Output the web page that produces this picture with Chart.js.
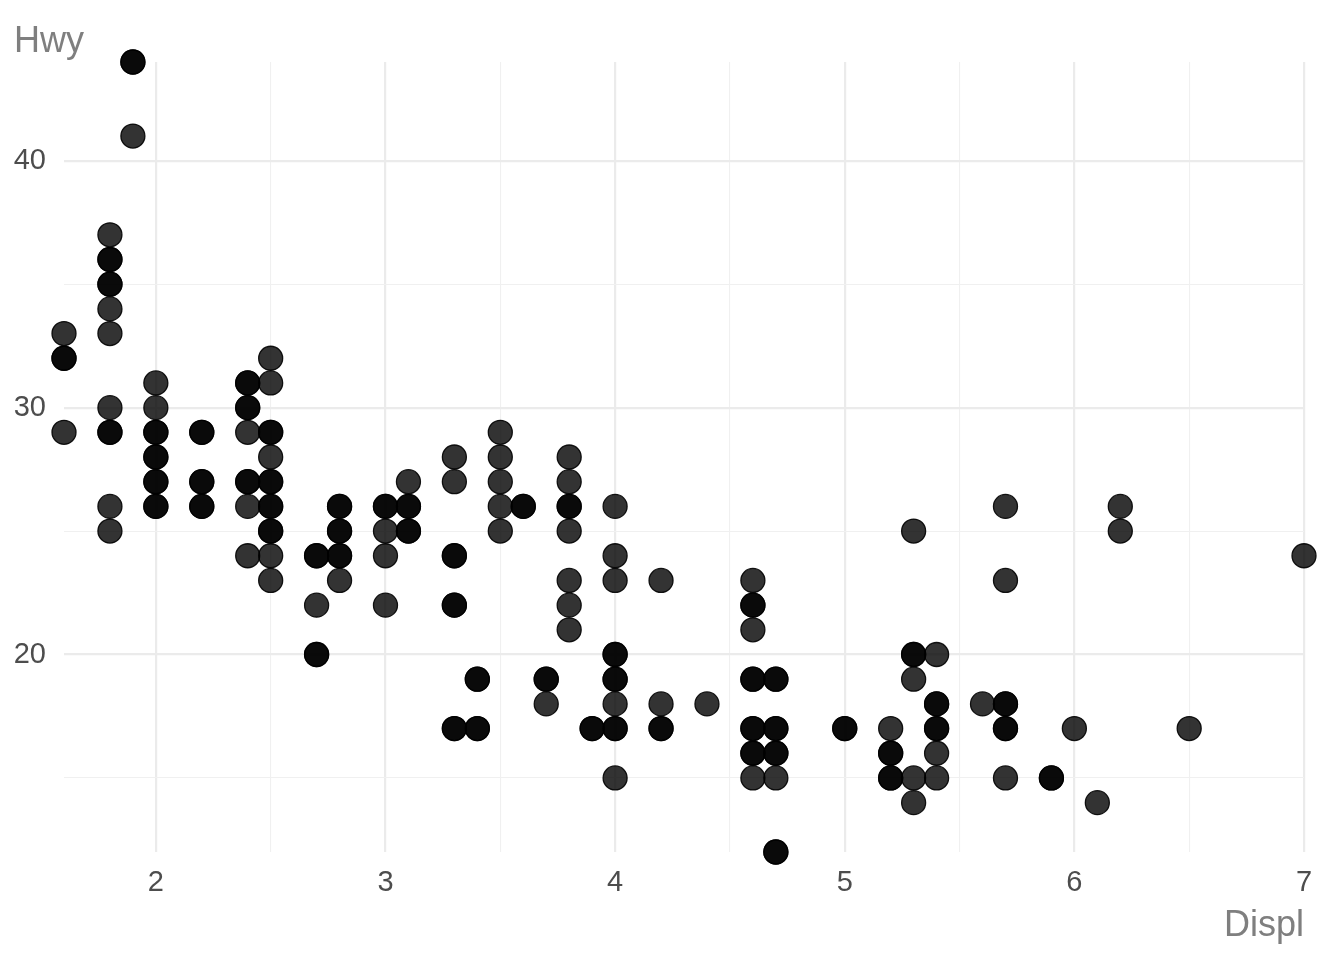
<!DOCTYPE html>
<html>
<head>
<meta charset="utf-8">
<script src="https://cdn.jsdelivr.net/npm/chart.js@4/dist/chart.umd.min.js"></script>
<style>
  html, body { margin: 0; padding: 0; background: #ffffff; }
  #wrap { width: 1344px; height: 960px; }
</style>
</head>
<body>
<div id="wrap"><canvas id="mpgChart"></canvas></div>
<script>
// displacement values and the hwy readings seen at each one
// (darker dots in the picture are stacked points, so they appear twice)
const displ = [1.6, 1.8, 1.9, 2.0, 2.2, 2.4, 2.5, 2.7, 2.8, 3.0, 3.1, 3.3, 3.4, 3.5, 3.6, 3.7, 3.8, 3.9,
  4.0, 4.2, 4.4, 4.6, 4.7, 5.0, 5.2, 5.3, 5.4, 5.6, 5.7, 5.9, 6.0, 6.1, 6.2, 6.5, 7.0];
const hwy = [
  [33, 32, 32, 29],
  [37, 36, 36, 35, 35, 34, 33, 30, 29, 29, 26, 25],
  [44, 44, 41],
  [31, 30, 29, 29, 28, 28, 27, 27, 26, 26],
  [29, 29, 27, 27, 26, 26],
  [31, 31, 30, 30, 29, 27, 27, 26, 24],
  [32, 31, 29, 29, 28, 27, 27, 26, 26, 25, 25, 24, 23],
  [24, 24, 22, 20, 20],
  [26, 26, 25, 25, 24, 24, 23],
  [26, 26, 25, 24, 22],
  [27, 26, 26, 25, 25],
  [28, 27, 24, 24, 22, 22, 17, 17],
  [19, 19, 17, 17],
  [29, 28, 27, 26, 25],
  [26, 26],
  [19, 19, 18],
  [28, 27, 26, 26, 25, 23, 22, 21],
  [17, 17],
  [26, 24, 23, 20, 20, 19, 19, 18, 17, 17, 15],
  [23, 18, 17, 17],
  [18],
  [23, 22, 22, 21, 19, 19, 17, 17, 16, 16, 15],
  [19, 19, 17, 17, 16, 16, 15, 12, 12],
  [17, 17],
  [17, 16, 16, 15, 15],
  [25, 20, 20, 19, 15, 14],
  [20, 18, 18, 17, 17, 16, 15],
  [18],
  [26, 23, 18, 18, 17, 17, 15],
  [15, 15],
  [17],
  [14],
  [26, 25],
  [17],
  [24],
];

const xTicks = [2, 2.5, 3, 3.5, 4, 4.5, 5, 5.5, 6, 6.5, 7];
const yTicks = [15, 20, 25, 30, 35, 40];

const points = [];
displ.forEach((d, i) => {
  hwy[i].forEach((h) => points.push({ x: d, y: h }));
});

const tickFont = { family: "'Liberation Sans', Arial, sans-serif", size: 29 };
const titleFont = { family: "'Liberation Sans', Arial, sans-serif", size: 36 };

const isMajorX = (v) => Number.isInteger(v);
const isMajorY = (v) => v % 10 === 0;

new Chart(document.getElementById("mpgChart").getContext("2d"), {
  type: "scatter",
  data: {
    datasets: [
      {
        data: points,
        backgroundColor: "rgba(0,0,0,0.8)",
        borderColor: "rgba(0,0,0,0.9)",
        borderWidth: 1.3,
        pointRadius: 12,
        pointHoverRadius: 12,
        clip: false,
      },
    ],
  },
  options: {
    responsive: true,
    maintainAspectRatio: false,
    animation: false,
    layout: { padding: { left: 14, right: 40, top: 0, bottom: 12 } },
    plugins: {
      legend: { display: false },
      tooltip: { enabled: false },
      title: {
        display: true,
        text: "Hwy",
        align: "start",
        color: "#7f7f7f",
        font: { ...titleFont, weight: "normal", lineHeight: 1 },
        padding: { top: 24, bottom: 2 },
      },
    },
    scales: {
      x: {
        type: "linear",
        min: 1.6,
        max: 7,
        afterBuildTicks: (scale) => {
          scale.ticks = xTicks.map((v) => ({ value: v }));
        },
        afterFit: (scale) => {
          scale.height = 96;
        },
        ticks: {
          color: "#4d4d4d",
          font: tickFont,
          padding: 14,
          maxRotation: 0,
          autoSkip: false,
          callback: (v) => (isMajorX(v) ? String(v) : ""),
        },
        grid: {
          drawTicks: false,
          color: (ctx) => (ctx.tick && isMajorX(ctx.tick.value) ? "#ebebeb" : "#f0f0f0"),
          lineWidth: (ctx) => (ctx.tick && isMajorX(ctx.tick.value) ? 2.2 : 1.1),
        },
        border: { display: false },
        title: {
          display: true,
          text: "Displ",
          align: "end",
          color: "#7f7f7f",
          font: titleFont,
          padding: { top: 5, bottom: 0 },
        },
      },
      y: {
        type: "linear",
        min: 12,
        max: 44,
        afterBuildTicks: (scale) => {
          scale.ticks = yTicks.map((v) => ({ value: v }));
        },
        afterFit: (scale) => {
          scale.width = 50;
        },
        ticks: {
          color: "#4d4d4d",
          font: tickFont,
          padding: 18,
          autoSkip: false,
          callback: (v) => (isMajorY(v) ? String(v) : ""),
        },
        grid: {
          drawTicks: false,
          color: (ctx) => (ctx.tick && isMajorY(ctx.tick.value) ? "#ebebeb" : "#f0f0f0"),
          lineWidth: (ctx) => (ctx.tick && isMajorY(ctx.tick.value) ? 2.2 : 1.1),
        },
        border: { display: false },
      },
    },
  },
});
</script>
</body>
</html>
